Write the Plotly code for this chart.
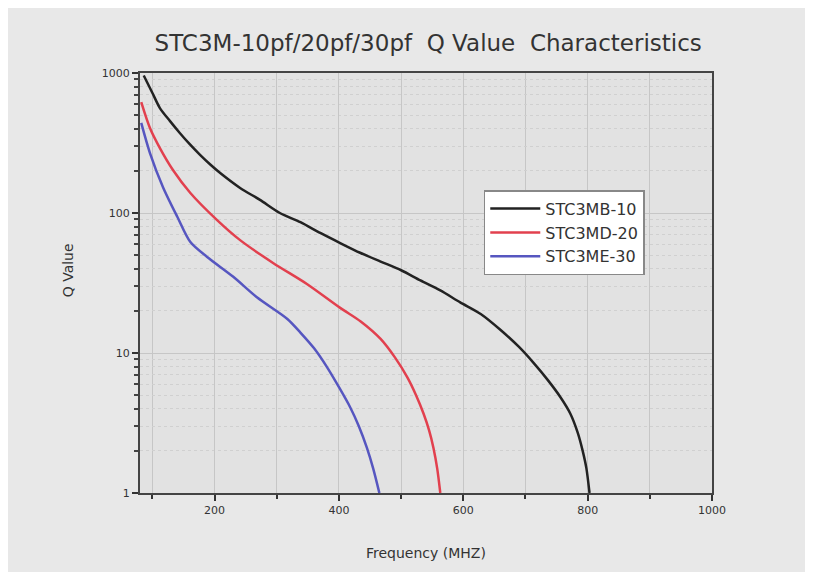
import plotly.graph_objects as go

# Frequency (MHz) and Q values
freq_b = [86, 100, 112, 128, 144, 160, 177, 193, 209, 241, 273, 305, 338, 370, 402, 434, 467, 500, 531, 563, 595, 628, 660, 690, 713, 736, 756, 772, 784, 792, 798, 803]
q_b = [960, 720, 562, 455, 373, 310, 259, 222, 193, 151, 124, 100, 86, 72, 61, 52, 45, 39, 33, 28, 23, 19, 14.6, 11, 8.5, 6.4, 4.85, 3.7, 2.7, 2.0, 1.5, 1.0]

freq_r = [82, 96, 112, 133, 161, 204, 241, 294, 349, 402, 435, 467, 490, 510, 524, 536, 545, 552, 558, 563]
q_r = [620, 405, 291, 203, 139, 89, 64, 44, 31, 21, 16.8, 12.6, 9.3, 6.7, 5.0, 3.7, 2.8, 2.1, 1.5, 1.0]

freq_e = [82, 96, 117, 140, 161, 188, 230, 268, 317, 338, 360, 381, 400, 418, 432, 445, 455, 465]
q_e = [440, 268, 153, 94, 62, 48.5, 35, 25, 17.5, 14, 10.8, 7.9, 5.7, 4.1, 3.0, 2.1, 1.5, 1.0]

names = ["STC3MB-10", "STC3MD-20", "STC3ME-30"]
colors = ["#222222", "#e2404e", "#5656c0"]

FONT = "DejaVu Sans, Liberation Sans, sans-serif"

fig = go.Figure()
for fx, qy, nm, col in zip([freq_b, freq_r, freq_e], [q_b, q_r, q_e], names, colors):
    fig.add_trace(go.Scatter(x=fx, y=qy, mode="lines", name=nm,
                             line=dict(color=col, width=2.5, shape="spline", smoothing=0.8)))

fig.update_layout(
    width=805, height=564,
    margin=dict(l=132, r=101, t=65, b=79),
    paper_bgcolor="#e8e8e8",
    plot_bgcolor="#e2e2e2",
    font=dict(family=FONT, color="#333333"),
    title=dict(text="STC3M-10pf/20pf/30pf  Q Value  Characteristics",
               x=0.522, xanchor="center", y=0.938, yanchor="middle",
               font=dict(size=23, color="#333333", family=FONT)),
    showlegend=True,
    legend=dict(x=0.601, y=0.721, xanchor="left", yanchor="top",
                bgcolor="#ffffff", bordercolor="#888888", borderwidth=1.5,
                font=dict(size=16, color="#333333", family=FONT), tracegroupgap=0,
                itemwidth=50),
)

fig.update_xaxes(
    range=[80, 1000], tickmode="linear", tick0=0, dtick=200,
    ticks="outside", ticklen=6, tickwidth=2, tickcolor="#333",
    tickfont=dict(size=11, color="#333", family=FONT),
    showline=True, linecolor="#444", linewidth=2, mirror=True,
    showgrid=True, gridcolor="#c6c6c6", gridwidth=1,
    minor=dict(tick0=0, dtick=100, ticks="outside", ticklen=4, tickcolor="#333",
               showgrid=True, gridcolor="#c6c6c6"),
    zeroline=False,
)
fig.update_yaxes(
    type="log", range=[0, 3], tickmode="linear", tick0=0, dtick=1,
    ticks="outside", ticklen=6, tickwidth=2, tickcolor="#333",
    tickfont=dict(size=11, color="#333", family=FONT),
    showline=True, linecolor="#444", linewidth=2, mirror=True,
    showgrid=True, gridcolor="#c6c6c6", gridwidth=1,
    minor=dict(dtick="D1", ticks="outside", ticklen=4, tickcolor="#444",
               showgrid=True, gridcolor="#d0d0d0", griddash="dot"),
    zeroline=False,
)

fig.add_annotation(text="Frequency (MHZ)", xref="paper", yref="paper",
                   x=0.5, y=-0.143, xanchor="center", yanchor="middle",
                   showarrow=False, font=dict(size=14, color="#333", family=FONT))
fig.add_annotation(text="Q Value", xref="paper", yref="paper",
                   x=-0.126, y=0.53, xanchor="center", yanchor="middle",
                   textangle=-90, showarrow=False, font=dict(size=14, color="#333", family=FONT))

fig.write_html("out.html")
